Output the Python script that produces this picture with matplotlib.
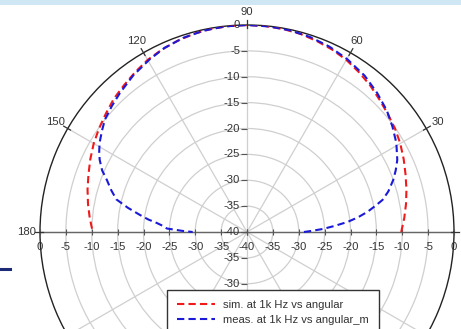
import numpy as np
import matplotlib
matplotlib.use("Agg")
import matplotlib.pyplot as plt
from matplotlib.patches import Rectangle
from matplotlib.lines import Line2D
from matplotlib.transforms import offset_copy

plt.rcParams['font.family'] = ['Liberation Sans', 'DejaVu Sans']

# ---- data (degrees, dB) ----
sim_angle = [0, 5, 10, 15, 20, 25, 30, 35, 40, 45, 50, 55, 60, 65, 70, 75, 80, 85, 90,
             95, 100, 105, 110, 115, 120, 125, 130, 135, 140, 145, 150, 155, 160, 165, 170, 175, 180]
sim_db = [-10.2, -9.5, -8.8, -8.1, -7.4, -6.6, -5.8, -5.1, -4.5, -3.8, -3.0, -2.3, -1.6, -1.1, -0.7,
          -0.35, -0.15, -0.05, 0.0,
          -0.05, -0.15, -0.35, -0.7, -1.1, -1.6, -2.3, -3.0, -3.6, -4.4, -5.1, -5.8, -6.6, -7.4,
          -8.1, -8.8, -9.5, -10.2]

meas_angle = [0, 1, 2.3, 4, 5.7, 7.5, 9.5, 11.5, 13.3, 16, 19.6, 22.5, 25.6, 30.8, 35.9, 41, 46.9,
              53, 59.8, 66, 72, 78, 84, 90, 96, 102, 108, 114, 119.4, 126, 132.4, 137, 141.7,
              145, 148.8, 151.5, 153.9, 157, 159.6, 163, 166, 168.5, 171, 172.8, 174.3, 176,
              177.5, 179, 180]
meas_db = [-29.0, -27.5, -25.3, -23.0, -20.5, -18.4, -16.4, -14.7, -13.1, -11.6, -10.0, -8.9, -7.8,
           -6.4, -5.3, -4.2, -3.2, -2.2, -1.4, -0.8, -0.4, -0.15, -0.05, 0.0, -0.05, -0.2, -0.5,
           -1.0, -1.7, -2.6, -3.6, -4.3, -5.0, -5.8, -6.7, -7.5, -8.3, -9.6, -11.1, -12.6, -14.0,
           -16.5, -19.1, -20.8, -22.5, -23.8, -24.5, -27.5, -29.5]

r_ticks = [0, -5, -10, -15, -20, -25, -30, -35, -40]
r_ticks_lower_visible = [-35, -30]   # the rest of the 270° axis labels sit behind the legend
angle_ticks = [0, 30, 60, 90, 120, 150, 180, 210, 240, 270, 300, 330]
angle_labels = {30: '30', 60: '60', 90: '90', 120: '120', 150: '150', 180: '180'}

W, H = 461, 329
fig = plt.figure(figsize=(W / 100, H / 100), dpi=100)
fig.patch.set_facecolor('white')

# decorative bits of the original screenshot
fig.add_artist(Rectangle((0, 1 - 5 / H), 1, 5 / H, transform=fig.transFigure,
                         facecolor='#cfe7f5', edgecolor='none'))
fig.add_artist(Line2D([0, 10 / W], [1 - 268.5 / H] * 2, transform=fig.transFigure,
                      color='#1c2a78', lw=2.2))

cx, cy, R = 247, 232, 207
ax = fig.add_axes([(cx - R) / W, (H - cy - R) / H, 2 * R / W, 2 * R / H], projection='polar')
ax.set_facecolor('white')
ax.set_rlim(-40, 0)
ax.set_thetagrids(angle_ticks, labels=[''] * len(angle_ticks))
ax.set_rgrids([-35, -30, -25, -20, -15, -10, -5], labels=[''] * 7)
ax.grid(True, color='#cfcfcf', lw=0.9)
ax.spines['polar'].set_color('#222222')
ax.spines['polar'].set_linewidth(1.0)
ax.tick_params(length=0)

FS = 8.1
txt_kw = dict(fontsize=FS, color='#333333', clip_on=False)

# horizontal axis line 0-180
ax.plot([0, 0], [-40, 0], color='#666666', lw=1.0, zorder=3)
ax.plot([np.pi, np.pi], [-40, 0], color='#666666', lw=1.0, zorder=3)

# ticks and radial labels
for rv in r_ticks:
    for th in (0, np.pi):
        ax.plot([th], [rv], marker='|', ms=4, mew=0.8, color='#555555', zorder=3, clip_on=False)
    for th in (np.pi / 2, 3 * np.pi / 2):
        ax.plot([th], [rv], marker=0, ms=4, mew=0.8, color='#555555', zorder=3, clip_on=False)

below = offset_copy(ax.transData, fig=fig, x=0, y=-15, units='dots')
left = offset_copy(ax.transData, fig=fig, x=-7, y=0, units='dots')
for rv in r_ticks:
    lab = '%d' % rv
    ax.text(0, rv, lab, transform=below, ha='center', va='center', **txt_kw)
    if rv != -40:
        ax.text(np.pi, rv, lab, transform=below, ha='center', va='center', **txt_kw)
    ax.text(np.pi / 2, rv, lab, transform=left, ha='right', va='center', **txt_kw)
for rv in r_ticks_lower_visible:
    ax.text(3 * np.pi / 2, rv, '%d' % rv, transform=left, ha='right', va='center', **txt_kw)

# angle labels and ticks
for a in angle_ticks:
    t = np.deg2rad(a)
    ax.plot([t, t], [-0.6, 0.9], color='#333333', lw=0.9, clip_on=False, zorder=3)
    if a in angle_labels:
        ax.text(t, 2.6, angle_labels[a], ha='center', va='center', **txt_kw)

ax.plot(np.deg2rad(sim_angle), sim_db, color='#f01a1a', lw=1.5, ls=(0, (3.5, 2)),
        label='sim. at 1k Hz vs angular', zorder=4)
ax.plot(np.deg2rad(meas_angle), meas_db, color='#1a1ad8', lw=1.5, ls=(0, (3.5, 2)),
        label='meas. at 1k Hz vs angular_m', zorder=5)

leg = fig.legend(loc='upper left', bbox_to_anchor=(167 / W, 1 - 290 / H),
                 fontsize=FS, frameon=True, fancybox=False, framealpha=1,
                 edgecolor='#333333', handlelength=3.4, handletextpad=0.75,
                 borderpad=0.85, labelspacing=0.5, borderaxespad=0)
leg.get_frame().set_linewidth(1.0)
leg.set_zorder(10)
for t in leg.get_texts():
    t.set_color('#333333')

fig.savefig('out.png', dpi=100)
